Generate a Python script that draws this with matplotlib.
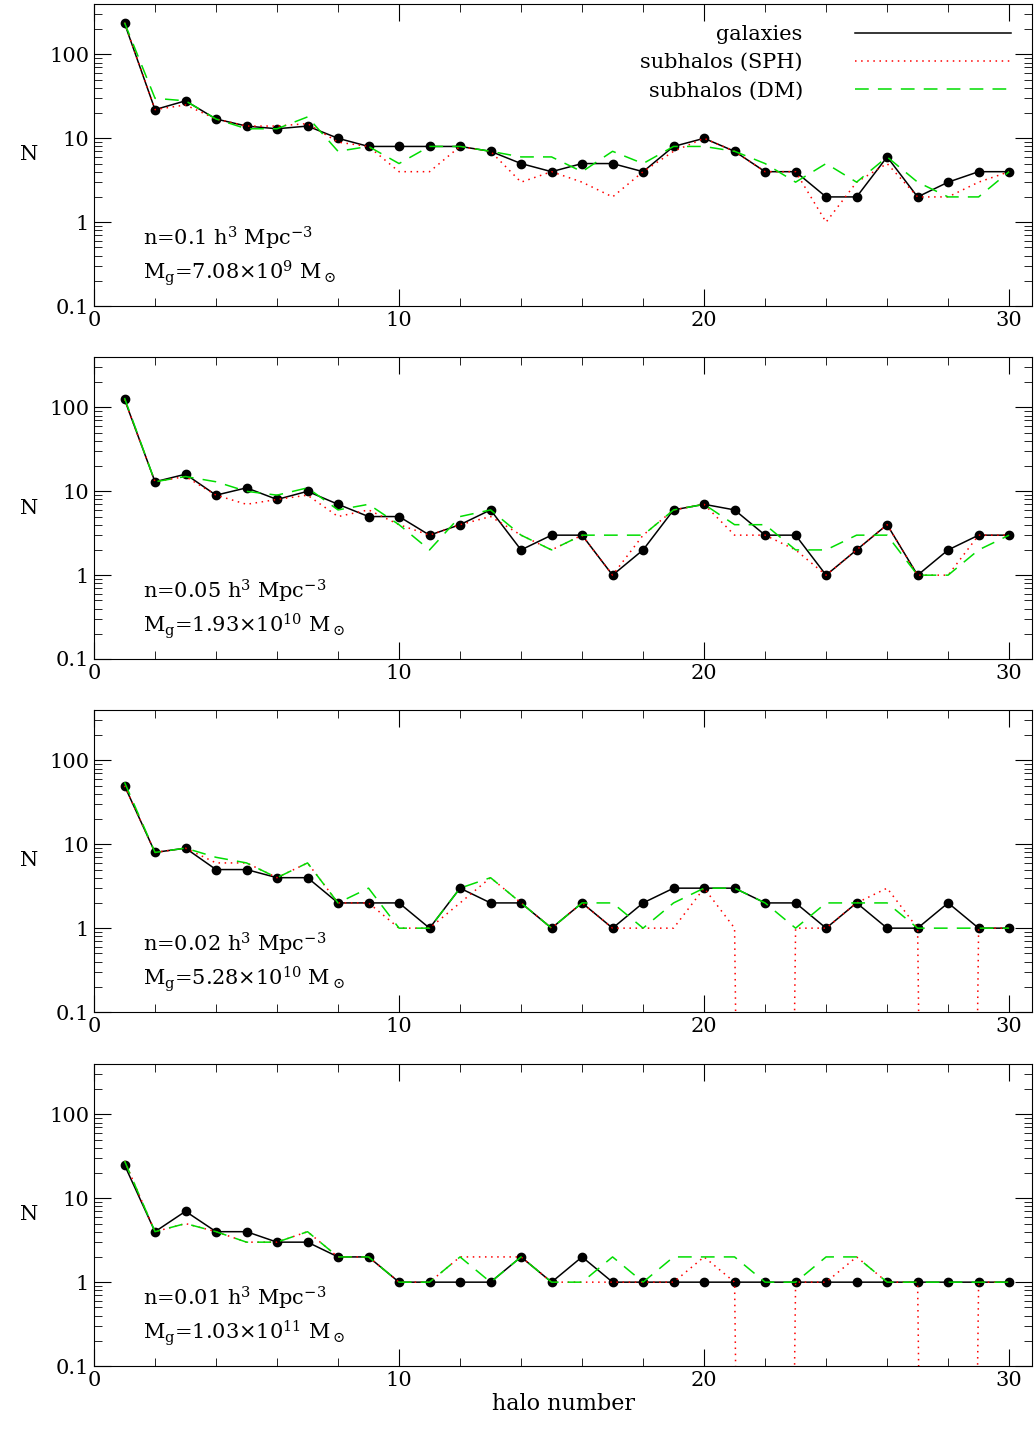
import numpy as np
import matplotlib
matplotlib.use('Agg')
import matplotlib.pyplot as plt
from matplotlib.ticker import MultipleLocator, LogLocator, NullFormatter, FixedLocator

plt.rcParams['font.family'] = ['DejaVu Serif']
plt.rcParams['mathtext.fontset'] = 'dejavuserif'

halo = np.arange(1, 31)
ZERO = 1e-30  # empty halos (N=0) drop off the log axis

gal_1 = [236, 22, 28, 17, 14, 13, 14, 10, 8, 8, 8, 8, 7, 5, 4, 5, 5, 4, 8, 10, 7, 4, 4, 2, 2, 6, 2, 3, 4, 4]
sph_1 = [240, 22, 25, 17, 14, 14, 15, 9, 8, 4, 4, 8, 7, 3, 4, 3, 2, 4, 7, 10, 7, 4, 4, 1, 3, 5, 2, 2, 3, 4]
dm_1 = [240, 30, 28, 17, 13, 13, 18, 7, 8, 5, 8, 8, 7, 6, 6, 4, 7, 5, 8, 8, 7, 5, 3, 5, 3, 6, 3, 2, 2, 4]

gal_2 = [125, 13, 16, 9, 11, 8, 10, 7, 5, 5, 3, 4, 6, 2, 3, 3, 1, 2, 6, 7, 6, 3, 3, 1, 2, 4, 1, 2, 3, 3]
sph_2 = [125, 13, 15, 9, 7, 8, 9, 5, 6, 4, 3, 4, 5, 3, 2, 3, 1, 3, 6, 7, 3, 3, 2, 1, 2, 4, 1, 1, 3, 3]
dm_2 = [130, 13, 15, 13, 10, 9, 11, 6, 7, 4, 2, 5, 6, 3, 2, 3, 3, 3, 6, 7, 4, 4, 2, 2, 3, 3, 1, 1, 2, 3]

gal_3 = [50, 8, 9, 5, 5, 4, 4, 2, 2, 2, 1, 3, 2, 2, 1, 2, 1, 2, 3, 3, 3, 2, 2, 1, 2, 1, 1, 2, 1, 1]
sph_3 = [50, 8, 9, 6, 6, 4, 6, 2, 2, 1, 1, 2, 4, 2, 1, 2, 1, 1, 1, 3, 1, 0, 1, 1, 2, 3, 1, 0, 1, 1]
dm_3 = [55, 8, 9, 7, 6, 4, 6, 2, 3, 1, 1, 3, 4, 2, 1, 2, 2, 1, 2, 3, 3, 2, 1, 2, 2, 2, 1, 1, 1, 1]

gal_4 = [25, 4, 7, 4, 4, 3, 3, 2, 2, 1, 1, 1, 1, 2, 1, 2, 1, 1, 1, 1, 1, 1, 1, 1, 1, 1, 1, 1, 1, 1]
sph_4 = [28, 4, 5, 4, 3, 3, 4, 2, 2, 1, 1, 2, 2, 2, 1, 1, 1, 1, 1, 2, 1, 0, 1, 1, 2, 1, 1, 0, 1, 1]
dm_4 = [28, 4, 5, 4, 3, 3, 4, 2, 2, 1, 1, 2, 1, 2, 1, 1, 2, 1, 2, 2, 2, 1, 1, 2, 2, 1, 1, 1, 1, 1]

labels = [
    (r'n=0.1 h$^3$ Mpc$^{-3}$', r'M$_{\rm g}$=7.08$\times$10$^9$ M$_\odot$'),
    (r'n=0.05 h$^3$ Mpc$^{-3}$', r'M$_{\rm g}$=1.93$\times$10$^{10}$ M$_\odot$'),
    (r'n=0.02 h$^3$ Mpc$^{-3}$', r'M$_{\rm g}$=5.28$\times$10$^{10}$ M$_\odot$'),
    (r'n=0.01 h$^3$ Mpc$^{-3}$', r'M$_{\rm g}$=1.03$\times$10$^{11}$ M$_\odot$'),
]
panels = [(gal_1, sph_1, dm_1), (gal_2, sph_2, dm_2), (gal_3, sph_3, dm_3), (gal_4, sph_4, dm_4)]

W, H = 1034, 1437
fig = plt.figure(figsize=(W / 100, H / 100), dpi=100)
tops = [4, 357, 710, 1064]
ph = 302

for i, (gal, sph, dm) in enumerate(panels):
    ax = fig.add_axes([94 / W, 1 - (tops[i] + ph) / H, 938 / W, ph / H])
    sph = [v if v > 0 else ZERO for v in sph]
    ax.plot(halo, gal, color='black', lw=1.1, marker='o', ms=6, label='galaxies')
    ax.plot(halo, sph, color='red', lw=1.1, ls=(0, (1, 3)), label='subhalos (SPH)')
    ax.plot(halo, dm, color='#00dd00', lw=1.1, ls=(0, (9, 6)), label='subhalos (DM)')
    ax.set_yscale('log')
    ax.set_ylim(0.1, 400)
    ax.set_xlim(0, 30.75)
    ax.xaxis.set_major_locator(MultipleLocator(10))
    ax.xaxis.set_minor_locator(MultipleLocator(2))
    ax.yaxis.set_major_locator(FixedLocator([0.1, 1, 10, 100]))
    ax.set_yticklabels(['0.1', '1', '10', '100'])
    ax.yaxis.set_minor_locator(LogLocator(base=10, subs=np.arange(2, 10)))
    ax.yaxis.set_minor_formatter(NullFormatter())
    ax.tick_params(which='both', direction='in', top=True, right=True, labelsize=15)
    ax.tick_params(which='major', length=12)
    ax.tick_params(which='minor', length=6)
    ax.set_ylabel('N', rotation=0, fontsize=15, labelpad=14, va='center')
    ax.text(0.052, 0.2, labels[i][0], transform=ax.transAxes, fontsize=15)
    ax.text(0.052, 0.09, labels[i][1], transform=ax.transAxes, fontsize=15)
    if i == 0:
        ax.legend(loc='upper right', frameon=False, fontsize=15, markerfirst=False,
                  handlelength=7.5, handletextpad=2.5, borderaxespad=0.6,
                  labelspacing=0.45)
        leg = ax.get_legend()
        leg.legend_handles[0].set_marker('')
    if i == 3:
        ax.set_xlabel('halo number', fontsize=16, labelpad=2)

fig.savefig('out.png', dpi=100)
